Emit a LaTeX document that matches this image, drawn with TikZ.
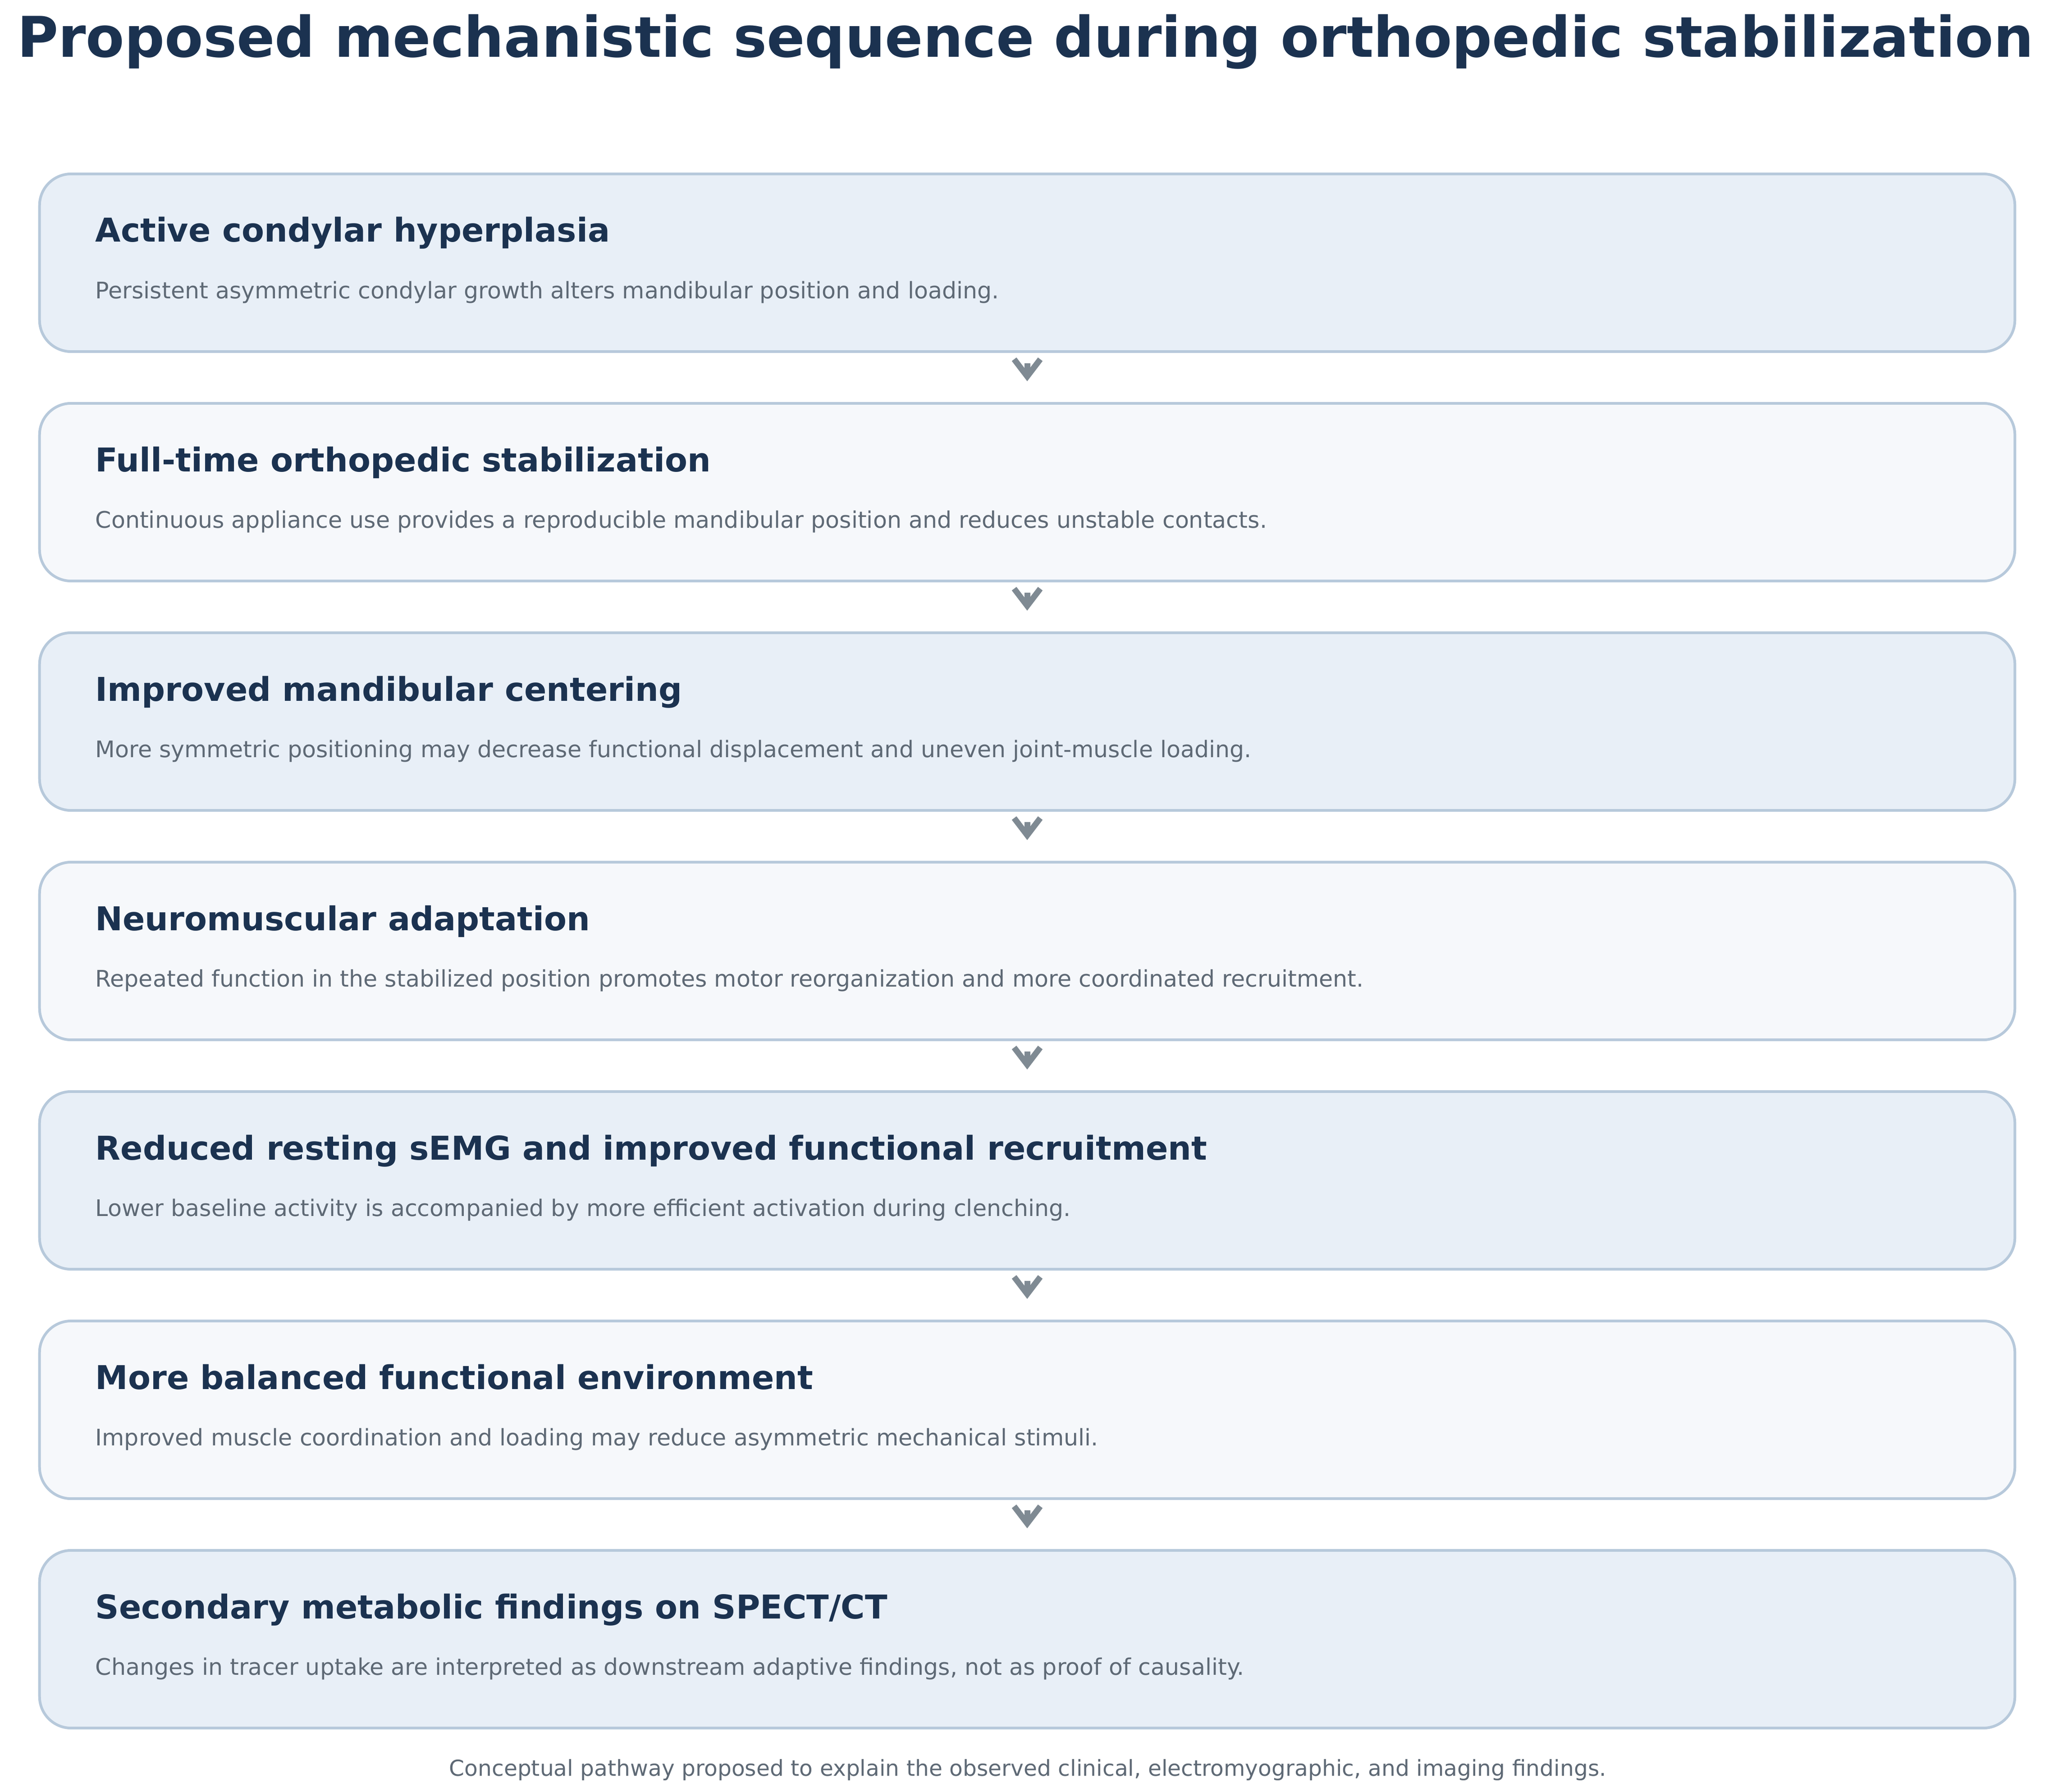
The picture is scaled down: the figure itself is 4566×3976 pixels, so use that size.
\documentclass[tikz,border=0pt]{standalone}
\usepackage{fontspec}
\setmainfont{DejaVu Sans}
\usetikzlibrary{arrows.meta}

\definecolor{navy}{HTML}{1B3250}
\definecolor{slate}{HTML}{5E6975}
\definecolor{boxedge}{HTML}{B7C9DB}
\definecolor{fillA}{HTML}{E8EFF7}
\definecolor{fillB}{HTML}{F6F8FB}
\definecolor{arrowgray}{HTML}{7F8A93}

\tikzset{
  stage/.style={draw=boxedge, line width=1.7pt, rounded corners=0.7cm,
    minimum width=43.8cm, minimum height=3.94cm, inner sep=0pt},
  head/.style={anchor=base west, inner sep=0pt, text=navy,
    font=\bfseries\fontsize{20.7}{25}\selectfont},
  desc/.style={anchor=base west, inner sep=0pt, text=slate,
    font=\fontsize{14.4}{17}\selectfont},
  flow/.style={draw=arrowgray, line width=3.7pt,
    -{Straight Barb[length=3.8mm, width=5.8mm]},
    shorten <=2.3mm, shorten >=4.6mm}
}

\begin{document}
\begin{tikzpicture}[x=0.01cm, y=-0.01cm]
\path[use as bounding box, fill=white] (0,0) rectangle (4566,3976);

% title
\node[anchor=base, inner sep=0pt, text=navy, font=\bfseries\fontsize{35.4}{42}\selectfont]
  (title) at (2275,127) {Proposed mechanistic sequence during orthopedic stabilization};

% stages
\node[stage, fill=fillA] (b1) at (2279,583) {};
\node[head] (h1) at (211,537) {Active condylar hyperplasia};
\node[desc] (d1) at (211,662) {Persistent asymmetric condylar growth alters mandibular position and loading.};

\node[stage, fill=fillB] (b2) at (2279,1092) {};
\node[head] (h2) at (211,1046) {Full-time orthopedic stabilization};
\node[desc] (d2) at (211,1171) {Continuous appliance use provides a reproducible mandibular position and reduces unstable contacts.};

\node[stage, fill=fillA] (b3) at (2279,1601) {};
\node[head] (h3) at (211,1555) {Improved mandibular centering};
\node[desc] (d3) at (211,1680) {More symmetric positioning may decrease functional displacement and uneven joint-muscle loading.};

\node[stage, fill=fillB] (b4) at (2279,2110) {};
\node[head] (h4) at (211,2064) {Neuromuscular adaptation};
\node[desc] (d4) at (211,2189) {Repeated function in the stabilized position promotes motor reorganization and more coordinated recruitment.};

\node[stage, fill=fillA] (b5) at (2279,2619) {};
\node[head] (h5) at (211,2573) {Reduced resting sEMG and improved functional recruitment};
\node[desc] (d5) at (211,2698) {Lower baseline activity is accompanied by more efficient activation during clenching.};

\node[stage, fill=fillB] (b6) at (2279,3128) {};
\node[head] (h6) at (211,3082) {More balanced functional environment};
\node[desc] (d6) at (211,3207) {Improved muscle coordination and loading may reduce asymmetric mechanical stimuli.};

\node[stage, fill=fillA] (b7) at (2279,3637) {};
\node[head] (h7) at (211,3591) {Secondary metabolic findings on SPECT/CT};
\node[desc] (d7) at (211,3716) {Changes in tracer uptake are interpreted as downstream adaptive findings, not as proof of causality.};

% arrows
\draw[flow] (b1) -- (b2);
\draw[flow] (b2) -- (b3);
\draw[flow] (b3) -- (b4);
\draw[flow] (b4) -- (b5);
\draw[flow] (b5) -- (b6);
\draw[flow] (b6) -- (b7);

% footnote
\node[anchor=base, inner sep=0pt, text=slate, font=\fontsize{13.85}{17}\selectfont]
  (note) at (2280,3940) {Conceptual pathway proposed to explain the observed clinical, electromyographic, and imaging findings.};
\end{tikzpicture}
\end{document}
